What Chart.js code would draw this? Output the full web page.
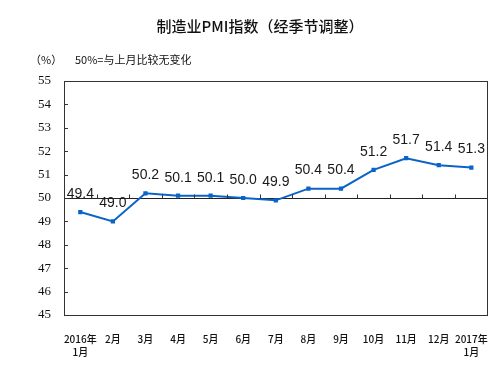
<!DOCTYPE html>
<html>
<head>
<meta charset="utf-8">
<script src="https://cdn.jsdelivr.net/npm/chart.js@4/dist/chart.umd.min.js"></script>
<style>
html,body{margin:0;padding:0;background:#fff;}
#wrap{width:498px;height:367px;position:relative;}
</style>
</head>
<body>
<div id="wrap"><canvas id="c" width="498" height="367"></canvas></div>
<script>
const categories = [['2016年','1月'],'2月','3月','4月','5月','6月','7月','8月','9月','10月','11月','12月',['2017年','1月']];
const pmiValues = [49.4, 49.0, 50.2, 50.1, 50.1, 50.0, 49.9, 50.4, 50.4, 51.2, 51.7, 51.4, 51.3];
const yTicks = [45, 46, 47, 48, 49, 50, 51, 52, 53, 54, 55];
const titleText = '制造业PMI指数（经季节调整）';
const unitText = '（%）';
const noteText = '50%=与上月比较无变化';
const baseline = 50;

const decor = {
  id: 'decor',
  afterDraw(chart) {
    const ctx = chart.ctx;
    const a = chart.chartArea;
    const xs = chart.scales.x, ys = chart.scales.y;
    ctx.save();
    ctx.strokeStyle = '#333';
    ctx.lineWidth = 1;
    ctx.strokeRect(Math.round(a.left) + 0.5, Math.round(a.top) + 0.5, Math.round(a.right - a.left) - 1, Math.round(a.bottom - a.top));
    ctx.beginPath();
    yTicks.forEach(v => {
      const y = Math.round(ys.getPixelForValue(v)) + 0.5;
      ctx.moveTo(a.left, y); ctx.lineTo(a.left + 4, y);
    });
    ctx.stroke();
    const by = Math.round(ys.getPixelForValue(baseline)) + 0.5;
    ctx.beginPath();
    for (let i = 1; i < pmiValues.length; i++) {
      const x = Math.round((xs.getPixelForValue(i - 1) + xs.getPixelForValue(i)) / 2) + 0.5;
      ctx.moveTo(x, by); ctx.lineTo(x, by - 4);
    }
    ctx.stroke();
    const meta = chart.getDatasetMeta(0);
    ctx.fillStyle = '#1a1a1a';
    ctx.font = '14px "Liberation Sans", Arial, sans-serif';
    ctx.textAlign = 'center';
    ctx.textBaseline = 'middle';
    meta.data.forEach((pt, i) => {
      ctx.fillText(pmiValues[i].toFixed(1), pt.x, pt.y - 18);
    });
    ctx.font = '500 15px "Noto Sans CJK SC", sans-serif';
    ctx.fillStyle = '#111';
    ctx.fillText(titleText, 260, 26);
    ctx.font = '11px "Noto Sans CJK SC", sans-serif';
    ctx.textAlign = 'left';
    ctx.fillText(unitText, 30, 60);
    ctx.fillText(noteText, 75, 60);
    ctx.restore();
  }
};

new Chart(document.getElementById('c'), {
  type: 'line',
  data: {
    labels: categories,
    datasets: [{
      data: pmiValues,
      borderColor: '#0a64c8',
      backgroundColor: '#0a64c8',
      borderWidth: 2,
      pointStyle: 'rect',
      pointRadius: 3,
      pointBorderWidth: 0,
      tension: 0,
      fill: false
    }]
  },
  options: {
    responsive: false,
    animation: false,
    layout: { padding: { left: 0, right: 7, top: 81, bottom: 0 } },
    plugins: { legend: { display: false }, tooltip: { enabled: false }, title: { display: false } },
    scales: {
      x: {
        type: 'category',
        offset: true,
        grid: { display: false, offset: true },
        border: { display: false },
        afterFit(s) { s.height = 52; },
        ticks: {
          autoSkip: false,
          maxRotation: 0,
          padding: 10,
          color: '#111',
          font: { family: '"Noto Sans CJK SC", sans-serif', size: 10, weight: '500', lineHeight: 1.3 }
        }
      },
      y: {
        min: 45, max: 55,
        afterFit(s) { s.width = 64; },
        afterBuildTicks(s) { s.ticks = yTicks.map(v => ({ value: v })); },
        border: { display: false },
        grid: {
          drawTicks: false,
          color: c => (c.tick && c.tick.value === baseline) ? '#222' : 'transparent',
          lineWidth: 1
        },
        ticks: {
          padding: 13,
          color: '#111',
          font: { family: '"Liberation Serif", "Times New Roman", serif', size: 13 }
        }
      }
    }
  },
  plugins: [decor]
});
</script>
</body>
</html>
